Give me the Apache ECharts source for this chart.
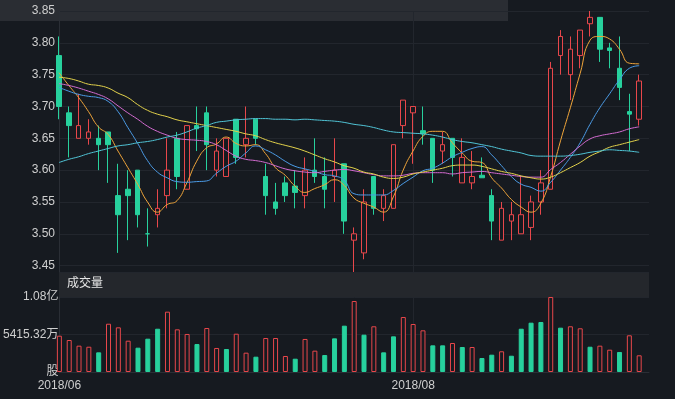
<!DOCTYPE html>
<html><head><meta charset="utf-8">
<script src="https://cdn.jsdelivr.net/npm/echarts@6/dist/echarts.min.js"></script>
<style>html,body{margin:0;padding:0;background:#161a20;}#c{width:675px;height:399px;}</style>
</head><body><div id="c"></div>
<script>
var dates = ['2018/06/11','2018/06/12','2018/06/13','2018/06/14','2018/06/15','2018/06/19','2018/06/20','2018/06/21','2018/06/22','2018/06/25','2018/06/26','2018/06/27','2018/06/28','2018/06/29',
'2018/07/02','2018/07/03','2018/07/04','2018/07/05','2018/07/06','2018/07/09','2018/07/10','2018/07/11','2018/07/12','2018/07/13','2018/07/16','2018/07/17','2018/07/18','2018/07/19','2018/07/20','2018/07/23','2018/07/24','2018/07/25','2018/07/26','2018/07/27','2018/07/30','2018/07/31',
'2018/08/01','2018/08/02','2018/08/03','2018/08/06','2018/08/07','2018/08/08','2018/08/09','2018/08/10','2018/08/13','2018/08/14','2018/08/15','2018/08/16','2018/08/17','2018/08/20','2018/08/21','2018/08/22','2018/08/23','2018/08/24','2018/08/27','2018/08/28','2018/08/29','2018/08/30','2018/08/31',
'2018/09/03','2018/09/04'];
var opens  = [3.78,3.69,3.65,3.65,3.65,3.66,3.56,3.57,3.60,3.50,3.53,3.56,3.65,3.57,3.67,3.69,3.60,3.59,3.68,3.64,3.68,3.59,3.55,3.58,3.575,3.56,3.60,3.59,3.59,3.61,3.49,3.47,3.59,3.54,3.54,3.67,3.69,3.662,3.65,3.63,3.65,3.58,3.58,3.592,3.56,3.49,3.52,3.50,3.51,3.55,3.57,3.78,3.75,3.78,3.83,3.84,3.792,3.76,3.692,3.68];
var closes = [3.70,3.67,3.67,3.66,3.64,3.64,3.53,3.56,3.53,3.50,3.54,3.60,3.59,3.67,3.665,3.64,3.63,3.65,3.62,3.65,3.65,3.56,3.54,3.56,3.565,3.60,3.59,3.57,3.60,3.52,3.50,3.55,3.54,3.56,3.64,3.71,3.70,3.657,3.60,3.64,3.62,3.62,3.59,3.588,3.52,3.54,3.53,3.53,3.55,3.58,3.76,3.81,3.79,3.82,3.84,3.79,3.788,3.73,3.688,3.74];
var lows   = [3.68,3.62,3.65,3.64,3.60,3.58,3.47,3.49,3.51,3.48,3.51,3.54,3.57,3.57,3.63,3.60,3.59,3.59,3.61,3.62,3.64,3.53,3.53,3.55,3.54,3.54,3.58,3.54,3.55,3.50,3.44,3.46,3.53,3.52,3.54,3.65,3.61,3.64,3.58,3.61,3.59,3.58,3.57,3.588,3.49,3.49,3.49,3.50,3.49,3.53,3.57,3.75,3.71,3.76,3.81,3.77,3.76,3.71,3.63,3.67];
var highs  = [3.81,3.70,3.72,3.68,3.67,3.66,3.61,3.60,3.60,3.54,3.57,3.65,3.66,3.67,3.70,3.70,3.65,3.65,3.68,3.70,3.68,3.61,3.58,3.59,3.60,3.62,3.65,3.62,3.65,3.61,3.51,3.57,3.59,3.57,3.64,3.71,3.70,3.70,3.65,3.66,3.65,3.65,3.63,3.62,3.57,3.55,3.55,3.59,3.56,3.60,3.77,3.82,3.81,3.82,3.85,3.84,3.80,3.81,3.72,3.75];
var ma5  = [3.753,3.733,3.714,3.692,3.668,3.656,3.630,3.604,3.578,3.550,3.534,3.546,3.552,3.580,3.614,3.635,3.641,3.652,3.642,3.638,3.640,3.626,3.604,3.592,3.575,3.565,3.571,3.577,3.585,3.576,3.556,3.548,3.542,3.534,3.558,3.600,3.630,3.653,3.661,3.661,3.643,3.627,3.614,3.612,3.588,3.572,3.554,3.542,3.534,3.548,3.590,3.646,3.698,3.752,3.804,3.810,3.806,3.790,3.768,3.767];
var ma10 = [3.730,3.724,3.719,3.716,3.714,3.708,3.692,3.667,3.642,3.615,3.597,3.588,3.582,3.581,3.582,3.583,3.595,3.606,3.614,3.627,3.638,3.632,3.624,3.614,3.606,3.602,3.598,3.593,3.591,3.584,3.563,3.561,3.561,3.561,3.568,3.579,3.589,3.599,3.603,3.611,3.621,3.628,3.634,3.637,3.624,3.607,3.590,3.578,3.573,3.567,3.581,3.600,3.620,3.643,3.672,3.698,3.720,3.742,3.760,3.764];
var ma20 = [3.736,3.733,3.729,3.724,3.719,3.712,3.701,3.690,3.680,3.669,3.661,3.655,3.650,3.648,3.647,3.645,3.640,3.631,3.622,3.617,3.615,3.612,3.607,3.602,3.599,3.597,3.596,3.598,3.600,3.601,3.599,3.596,3.593,3.591,3.591,3.592,3.595,3.596,3.596,3.596,3.594,3.596,3.597,3.598,3.596,3.594,3.592,3.590,3.589,3.589,3.601,3.612,3.625,3.638,3.649,3.654,3.657,3.660,3.665,3.668];
var ma30 = [3.746,3.744,3.740,3.735,3.733,3.729,3.721,3.714,3.703,3.694,3.688,3.684,3.679,3.676,3.673,3.670,3.667,3.664,3.661,3.657,3.654,3.648,3.643,3.639,3.635,3.630,3.624,3.618,3.613,3.607,3.603,3.597,3.594,3.589,3.587,3.589,3.594,3.597,3.600,3.603,3.607,3.608,3.608,3.606,3.602,3.598,3.595,3.591,3.588,3.586,3.589,3.596,3.604,3.612,3.622,3.629,3.636,3.640,3.644,3.648];
var ma60 = [3.612,3.617,3.621,3.626,3.630,3.634,3.638,3.640,3.643,3.645,3.648,3.652,3.655,3.660,3.666,3.670,3.675,3.677,3.679,3.680,3.681,3.681,3.680,3.680,3.679,3.680,3.679,3.678,3.677,3.675,3.672,3.670,3.667,3.663,3.660,3.659,3.658,3.657,3.655,3.652,3.648,3.645,3.643,3.640,3.637,3.633,3.630,3.627,3.623,3.622,3.622,3.622,3.623,3.625,3.628,3.630,3.632,3.631,3.630,3.628];
var volumes = [52400000,46200000,38000000,36500000,28400000,69700000,64500000,45200000,35100000,48100000,62500000,87100000,61600000,54900000,40400000,63500000,34700000,33200000,55300000,27900000,22100000,49100000,49100000,23100000,19200000,47700000,30800000,24500000,48600000,66900000,102500000,53900000,66000000,28400000,51500000,79400000,69300000,60200000,38500000,38500000,41900000,36100000,36100000,20200000,25000000,29900000,23500000,62500000,71200000,72200000,108306400,64000000,66000000,63100000,36500000,38000000,32200000,28900000,53000000,24100000];
var volDir = [1,1,1,1,-1,1,1,1,-1,-1,-1,1,1,1,-1,1,1,-1,1,1,-1,1,1,1,-1,1,1,-1,-1,-1,1,-1,1,-1,-1,1,1,1,-1,-1,1,-1,1,-1,-1,1,-1,-1,-1,-1,1,-1,1,1,-1,1,1,-1,1,1];
var priceTicksLabel = ['3.45','3.50','3.55','3.60','3.65','3.70','3.75','3.80','3.85'];

var UP = '#e8474b', DOWN = '#27d19d', BG = '#161a20';
var kdata = opens.map(function(o,i){ return [o, closes[i], lows[i], highs[i]]; });
var vdata = volumes.map(function(v,i){
  return volDir[i] > 0
    ? {value: v, itemStyle: {color: BG, borderColor: UP, borderWidth: 1}}
    : {value: v, itemStyle: {color: DOWN, borderColor: DOWN, borderWidth: 1}};
});
function fmtVol(v){ if (v === 0) return '股'; if (v >= 1e8) return (v/1e8).toFixed(2) + '亿'; return (v/1e4).toFixed(2) + '万'; }
var FONT = 'Liberation Sans, Arial, Noto Sans CJK SC, sans-serif';
var chart = echarts.init(document.getElementById('c'));
function maSeries(name, data, color){
  return {name: name, type: 'line', data: data, xAxisIndex: 0, yAxisIndex: 0, symbol: 'none', smooth: true,
    lineStyle: {width: 1, color: color}, itemStyle: {color: color}, z: 3};
}
chart.setOption({
  backgroundColor: BG,
  animation: false,
  graphic: [
    {type: 'rect', left: 0, top: 0, z: -10, shape: {width: 508, height: 21}, style: {fill: '#2a2d33'}},
    {type: 'rect', left: 59, top: 272, z: -10, shape: {width: 590, height: 25}, style: {fill: '#24272c'}},
    {type: 'text', left: 67, top: 278, z: 10, style: {text: '成交量', fill: '#e6e6e6', font: '12px ' + FONT}}
  ],
  grid: [
    {left: 59, right: 26, top: 11, height: 261},
    {left: 59, right: 26, top: 297, height: 75}
  ],
  xAxis: [
    {type: 'category', gridIndex: 0, data: dates, boundaryGap: false,
     axisLine: {show: false}, axisTick: {show: false}, axisLabel: {show: false},
     splitLine: {show: true, interval: 35, lineStyle: {color: '#22262d'}}},
    {type: 'category', gridIndex: 1, data: dates, boundaryGap: false,
     axisLine: {show: true, lineStyle: {color: '#2a2e35'}}, axisTick: {show: false},
     axisLabel: {show: true, interval: 35, color: '#cfcfcf', fontSize: 12, fontFamily: FONT, margin: 8,
       formatter: function(v){ return v.slice(0,7); }},
     splitLine: {show: true, interval: 35, lineStyle: {color: '#22262d'}}}
  ],
  yAxis: [
    {type: 'value', gridIndex: 0, min: 3.44, max: 3.85, splitNumber: 8, scale: true,
     axisLine: {show: true, lineStyle: {color: '#2a2e35'}}, axisTick: {show: false},
     axisLabel: {color: '#cfcfcf', fontSize: 12, fontFamily: FONT, margin: 4, showMinLabel: false,
       formatter: function(v){ var s = v.toFixed(2); return priceTicksLabel.indexOf(s) >= 0 ? s : ''; }},
     splitLine: {show: true, lineStyle: {color: '#22262d'}}},
    {type: 'value', gridIndex: 1, min: 0, max: 108306400, interval: 54153200,
     axisLine: {show: true, lineStyle: {color: '#2a2e35'}}, axisTick: {show: false},
     axisLabel: {color: '#cfcfcf', fontSize: 12, fontFamily: FONT, margin: 1, formatter: fmtVol},
     splitLine: {show: true, lineStyle: {color: '#22262d'}}}
  ],
  series: [
    {type: 'candlestick', name: 'K', data: kdata, xAxisIndex: 0, yAxisIndex: 0, barWidth: 5,
     itemStyle: {color: BG, color0: DOWN, borderColor: UP, borderColor0: DOWN, borderWidth: 1}, z: 2},
    maSeries('MA5', ma5, '#f0a53a'),
    maSeries('MA10', ma10, '#4b9be6'),
    maSeries('MA20', ma20, '#d36bd0'),
    maSeries('MA30', ma30, '#e3d24b'),
    maSeries('MA60', ma60, '#50c4d6'),
    {type: 'bar', name: 'VOL', data: vdata, xAxisIndex: 1, yAxisIndex: 1, barWidth: 5}
  ]
});
</script></body></html>
